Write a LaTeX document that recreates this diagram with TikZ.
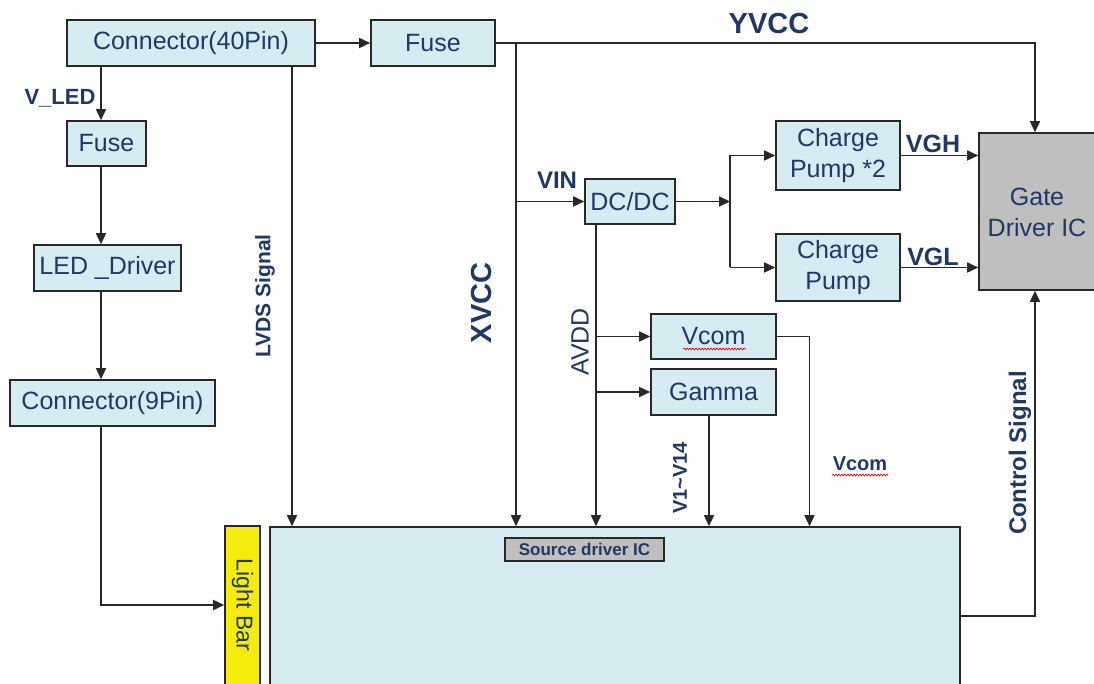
\documentclass[tikz,border=0pt]{standalone}
\usepackage{fontspec}
\setmainfont{Liberation Sans}
\usetikzlibrary{arrows.meta,decorations.pathmorphing}
\definecolor{navy}{RGB}{31,56,100}
\definecolor{boxblue}{RGB}{213,236,243}
\definecolor{gategray}{RGB}{191,191,191}
\definecolor{barY}{RGB}{245,235,12}
\definecolor{edge}{RGB}{40,40,40}
\begin{document}
\begin{tikzpicture}[x=1pt,y=-1pt,
 blk/.style={draw=edge,line width=1.6pt,fill=boxblue,text=navy,inner sep=0pt,align=center,font=\fontsize{25}{31}\selectfont},
 plain/.style={draw=edge,line width=1.6pt,inner sep=0pt},
 wire/.style={draw=edge,line width=1.6pt},
 arr/.style={wire,-{Triangle[length=11pt,width=10pt]}},
 lab/.style={text=navy,inner sep=0pt,font=\fontsize{24}{28}\selectfont\bfseries},
 squig/.style={draw=red,line width=0.6pt,decorate,decoration={snake,amplitude=1pt,segment length=3pt}}]
\clip (0,0) rectangle (1094,684);
\fill[white] (0,0) rectangle (1094,684);
% blocks
\node[blk,minimum width=248pt,minimum height=46pt] (c40) at (191,43) {Connector(40Pin)};
\node[blk,minimum width=124pt,minimum height=46pt] (fuseT) at (433,43) {Fuse};
\node[blk,minimum width=79pt,minimum height=45pt] (fuseL) at (106.5,143.5) {Fuse};
\node[blk,minimum width=147pt,minimum height=46pt] (led) at (107.5,268) {LED \_Driver};
\node[blk,minimum width=205pt,minimum height=46pt] (c9) at (112.5,403) {Connector(9Pin)};
\node[blk,minimum width=90pt,minimum height=45pt] (dcdc) at (630,201.5) {DC/DC};
\node[blk,minimum width=124pt,minimum height=69pt] (cp2) at (838,155.5) {Charge\\Pump *2};
\node[blk,minimum width=124pt,minimum height=67pt] (cp1) at (838,267.5) {Charge\\Pump};
\node[blk,minimum width=125pt,minimum height=45pt] (vcom) at (713.5,336.5) {Vcom};
\node[blk,minimum width=125pt,minimum height=46pt] (gamma) at (713.5,392) {Gamma};
\node[plain,fill=gategray,minimum width=140pt,minimum height=157pt] (gate) at (1049,211.5) {};
\node[text=navy,align=center,inner sep=0pt,font=\fontsize{25}{31}\selectfont] (gatetxt) at (1037,212) {Gate\\Driver IC};
\node[blk,minimum width=690pt,minimum height=173pt] (src) at (615,613.5) {};
\node[plain,fill=barY,minimum width=35pt,minimum height=174pt] (lb) at (242.5,613) {};
\node[rotate=-90,text=navy,inner sep=0pt,font=\fontsize{23}{23}\selectfont] (lbtxt) at (242.5,605) {Light Bar};
\node[draw=edge,line width=1.2pt,fill=gategray,minimum width=159pt,minimum height=23pt,inner sep=0pt,text=navy,font=\fontsize{17}{17}\selectfont\bfseries] (srclab) at (584.5,549.5) {Source driver IC};
% helper coordinates
\coordinate (jx) at (516,43);
\coordinate (jvin) at (516,201.5);
\coordinate (jcp) at (730,201.5);
\coordinate (gtop) at (1035,0);
\coordinate (av) at (596,0);
\coordinate (gm) at (709,0);
\coordinate (vc) at (809.5,0);
\coordinate (cs) at (1035,616);
\coordinate (lv) at (292,0);
\coordinate (vl) at (101,0);
\coordinate (lbt) at (101,605);
% connectors
\draw[arr] (c40.east) -- (fuseT.west);
\draw[arr] (fuseT.east) -| (gate.north -| gtop);
\draw[arr] (jx) -- (src.north -| jx);
\draw[arr] (jvin) -- (dcdc.west);
\draw[arr] (dcdc.east) -- (jcp);
\draw[wire] (jcp |- cp2.west) -- (jcp |- cp1.west);
\draw[arr] (jcp |- cp2.west) -- (cp2.west);
\draw[arr] (jcp |- cp1.west) -- (cp1.west);
\draw[arr] (cp2.east) -- (gate.west |- cp2.east);
\draw[arr] (cp1.east) -- (gate.west |- cp1.east);
\draw[arr] (dcdc.south -| av) -- (src.north -| av);
\draw[arr] (av |- vcom.west) -- (vcom.west);
\draw[arr] (av |- gamma.west) -- (gamma.west);
\draw[arr] (gamma.south -| gm) -- (src.north -| gm);
\draw[arr] (vcom.east) -| (src.north -| vc);
\draw[arr] (src.east |- cs) -| (gate.south -| cs);
\draw[arr] (c40.south -| lv) -- (src.north -| lv);
\draw[arr] (c40.south -| vl) -- (fuseL.north -| vl);
\draw[arr] (fuseL.south -| vl) -- (led.north -| vl);
\draw[arr] (led.south -| vl) -- (c9.north -| vl);
\draw[arr] (c9.south -| vl) |- (lb.west |- lbt);
% labels
\node[lab,font=\fontsize{22}{22}\selectfont\bfseries] (lvled) at (60,98) {V\_LED};
\node[lab,rotate=90,font=\fontsize{21}{21}\selectfont\bfseries] (llvds) at (265,296) {LVDS Signal};
\node[lab,rotate=90,font=\fontsize{29}{29}\selectfont\bfseries] (lxvcc) at (482,303) {XVCC};
\node[lab,font=\fontsize{29}{29}\selectfont\bfseries] (lyvcc) at (769,24) {YVCC};
\node[lab] (lvin) at (557,180) {VIN};
\node[lab,rotate=90,font=\fontsize{25}{25}\selectfont] (lavdd) at (580,342) {AVDD};
\node[lab,font=\fontsize{25}{25}\selectfont\bfseries] (lvgh) at (933,144) {VGH};
\node[lab,font=\fontsize{25}{25}\selectfont\bfseries] (lvgl) at (933,257) {VGL};
\node[lab,rotate=90,font=\fontsize{20}{20}\selectfont\bfseries] (lv14) at (680,478) {V1\textasciitilde V14};
\node[lab,font=\fontsize{20}{20}\selectfont\bfseries] (lvcom) at (860,464) {Vcom};
\node[lab,rotate=90] (lctrl) at (1020,453) {Control Signal};
% spell-check squiggles
\draw[squig] (683,349) -- (746,349);
\draw[squig] (832,475) -- (888,475);
\end{tikzpicture}
\end{document}
